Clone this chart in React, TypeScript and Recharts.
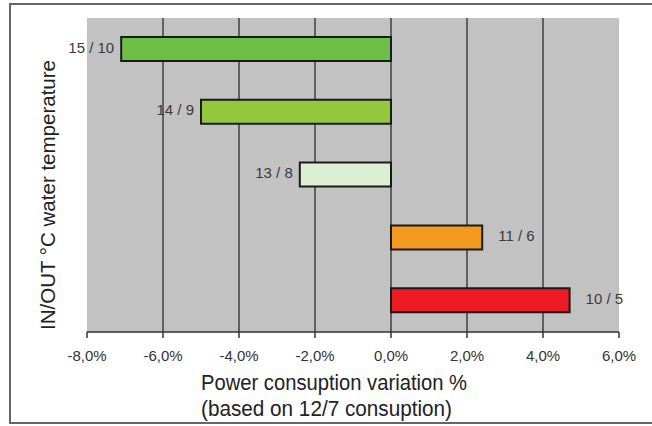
import { BarChart, Bar, XAxis, YAxis, CartesianGrid, Cell, LabelList } from 'recharts'

const categories = ['15 / 10', '14 / 9', '13 / 8', '11 / 6', '10 / 5']
const variations = [-7.1, -5.0, -2.4, 2.4, 4.7]
const barColors = ['#6cbf45', '#93c83e', '#dcefd3', '#f3991f', '#ed1c24']
const xTicks = [-8, -6, -4, -2, 0, 2, 4, 6]

const data = categories.map((name, i) => ({ name, value: variations[i] }))

const font = '"Liberation Sans", Arial, sans-serif'

const fmtPct = (v: number) => `${v.toFixed(1).replace('.', ',')}%`

const BarLabel = (props: any) => {
  const { x, y, width, height, index, value } = props
  const left = Math.min(x, x + width)
  const right = Math.max(x, x + width)
  const neg = variations[index] < 0
  return (
    <text
      x={neg ? left - 7 : right + 16}
      y={y + height / 2 - 2}
      textAnchor={neg ? 'end' : 'start'}
      dominantBaseline="central"
      fontFamily={font}
      fontSize={15}
      fill="#3a3a3a"
      textLength={neg || index === 3 ? undefined : undefined}
    >
      {value}
    </text>
  )
}

const Tick = (props: any) => {
  const { x, y, payload } = props
  return (
    <text x={x} y={y + 21} textAnchor="middle" fontFamily={font} fontSize={15} fill="#333">
      {fmtPct(payload.value)}
    </text>
  )
}

// axis titles, placed like the original sheet
const Titles = () => (
  <g>
    <text x={201} y={390} fontFamily={font} fontSize={22} fill="#222" textLength={266} lengthAdjust="spacingAndGlyphs">
      Power consuption variation %
    </text>
    <text x={201} y={416} fontFamily={font} fontSize={22} fill="#222" textLength={251} lengthAdjust="spacingAndGlyphs">
      (based on 12/7 consuption)
    </text>
    <text
      x={55}
      y={330}
      transform="rotate(-90, 55, 330)"
      fontFamily={font}
      fontSize={20}
      fill="#222"
      textLength={270}
      lengthAdjust="spacingAndGlyphs"
    >
      IN/OUT °C water temperature
    </text>
  </g>
)

export default function App() {
  return (
    <div style={{ position: 'fixed', left: 0, top: 0, width: 652, height: 426, background: '#fff', overflow: 'hidden' }}>
      <div style={{ position: 'absolute', left: 9, top: 3, width: 700, height: 417, border: '2px solid #666' }} />
      <div style={{ position: 'absolute', left: 0, top: 0 }}>
        <BarChart
          width={652}
          height={426}
          data={data}
          layout="vertical"
          margin={{ top: 18, right: 33, bottom: 64, left: 87 }}
        >
          <CartesianGrid
            horizontal={false}
            verticalValues={[-6, -4, -2, 0, 2, 4]}
            fill="#c2c2c2"
            fillOpacity={1}
            stroke="#2b2b2b"
            strokeWidth={1.3}
          />
          <XAxis
            type="number"
            domain={[-8, 6]}
            ticks={xTicks}
            interval={0}
            height={30}
            axisLine={{ stroke: '#333', strokeWidth: 1.5 }}
            tickLine={{ stroke: '#333', strokeWidth: 1.5 }}
            tickSize={6}
            tick={<Tick />}
            label={{ content: () => <Titles /> }}
          />
          <YAxis type="category" dataKey="name" hide />
          <Bar dataKey="value" barSize={24} stroke="#1a1a1a" strokeWidth={2} isAnimationActive={false}>
            {data.map((d, i) => (
              <Cell key={d.name} fill={barColors[i]} />
            ))}
            <LabelList dataKey="name" content={<BarLabel />} />
          </Bar>
        </BarChart>
      </div>
    </div>
  )
}
